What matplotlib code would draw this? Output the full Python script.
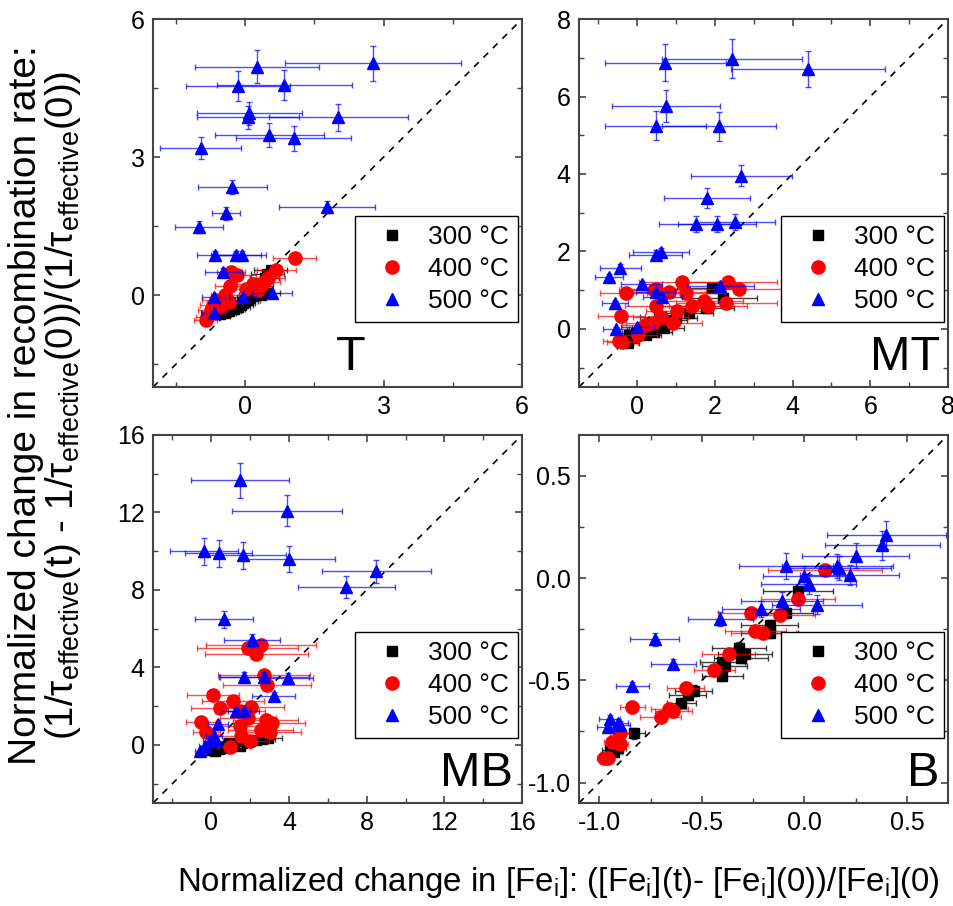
import matplotlib
matplotlib.use('Agg')
import matplotlib.pyplot as plt
from matplotlib.lines import Line2D
from matplotlib.ticker import MultipleLocator, FormatStrFormatter

plt.rcParams['font.family'] = ['Liberation Sans', 'DejaVu Sans']
plt.rcParams['mathtext.fontset'] = 'custom'
plt.rcParams['mathtext.rm'] = 'Liberation Sans'
plt.rcParams['mathtext.it'] = 'Liberation Sans:italic'
plt.rcParams['axes.unicode_minus'] = False

temps = ['300 °C', '400 °C', '500 °C']

# ---- panel T ----
T_300_x = [0.55, 0.48, 0.42, 0.3, 0.25, 0.2, 0.15, 0.1, 0.05, 0.0, -0.05, -0.1, -0.15, -0.25, -0.35, -0.45, -0.55, -0.75, 0.35, 0.45]
T_300_y = [0.55, 0.45, 0.38, 0.2, 0.1, 0.05, 0.0, -0.05, -0.1, -0.12, -0.18, -0.22, -0.25, -0.3, -0.35, -0.4, -0.42, -0.38, 0.0, 0.05]
T_300_xe = [0.35, 0.35, 0.32, 0.3, 0.3, 0.3, 0.28, 0.28, 0.28, 0.27, 0.27, 0.26, 0.26, 0.25, 0.25, 0.24, 0.24, 0.22, 0.3, 0.3]
T_300_ye = [0.04] * 20
T_400_x = [1.07, 0.67, -0.31, -0.17, 0.49, -0.33, 0.16, 0.01, 0.27, 0.41, -0.44, -0.64, -0.71, -0.53, -0.82, -0.86, -0.75, -0.35]
T_400_y = [0.8, 0.54, 0.51, 0.43, 0.36, 0.2, 0.25, 0.14, 0.12, 0.29, 0.0, -0.11, -0.22, -0.25, -0.47, -0.54, -0.33, -0.15]
T_400_xe = [0.47, 0.42, 0.3, 0.4, 0.38, 0.32, 0.35, 0.35, 0.3, 0.35, 0.3, 0.3, 0.28, 0.3, 0.25, 0.25, 0.28, 0.3]
T_400_ye = [0.05] * 18
T_500_x = [0.25, 2.77, -0.15, 0.85, 0.09, 0.06, 2.02, 0.52, 1.05, -0.97, -0.28, 1.77, -0.42, -1.0, -0.66, -0.2, -0.08, -0.48, 0.58, -0.68, -0.68, -0.06]
T_500_y = [4.96, 5.04, 4.54, 4.57, 3.95, 3.86, 3.86, 3.48, 3.41, 3.19, 2.35, 1.92, 1.78, 1.48, 0.87, 0.87, 0.87, 0.51, 0.05, -0.05, -0.4, -0.04]
T_500_xe = [1.35, 1.9, 1.13, 1.46, 1.13, 1.1, 1.5, 1.18, 1.25, 0.88, 0.75, 1.04, 0.31, 0.52, 0.39, 0.55, 0.54, 0.4, 0.44, 0.25, 0.25, 0.3]
T_500_ye = [0.36, 0.38, 0.33, 0.32, 0.25, 0.25, 0.3, 0.27, 0.27, 0.24, 0.16, 0.13, 0.14, 0.14, 0.08, 0.08, 0.08, 0.08, 0.05, 0.05, 0.05, 0.05]

# ---- panel MT ----
MT_300_x = [1.92, 2.22, 1.78, 1.34, 1.0, 0.57, 0.74, 0.52, 0.31, 0.14, -0.03, -0.21, -0.25, 0.7, 0.44, 0.22, -0.12]
MT_300_y = [1.05, 0.81, 0.53, 0.4, 0.29, 0.32, 0.23, 0.1, 0.02, -0.03, -0.11, -0.16, -0.37, 0.02, -0.07, -0.16, -0.2]
MT_300_xe = [0.78, 0.87, 0.7, 0.6, 0.55, 0.5, 0.55, 0.5, 0.45, 0.4, 0.35, 0.3, 0.3, 0.5, 0.45, 0.4, 0.3]
MT_300_ye = [0.06] * 17
MT_400_x = [2.33, 2.62, 1.15, -0.28, 0.47, 0.83, 1.26, 0.48, 1.73, 1.82, 2.29, 1.03, -0.41, 0.4, 0.91, 0.01, -0.48, -0.38, 0.44, 0.2, 0.6, 1.4]
MT_400_y = [1.22, 1.03, 1.2, 0.94, 1.03, 0.96, 0.92, 0.59, 0.72, 0.59, 0.66, 0.47, 0.34, 0.16, 0.15, -0.16, -0.3, -0.33, 1.0, 0.1, 0.3, 0.6]
MT_400_xe = [1.26, 1.3, 1.1, 0.67, 0.9, 0.95, 1.0, 0.8, 1.0, 1.0, 1.3, 0.8, 0.6, 0.7, 0.75, 0.5, 0.4, 0.4, 0.9, 0.6, 0.7, 0.9]
MT_400_ye = [0.08] * 22
MT_500_x = [0.72, 2.44, 4.39, 0.74, 0.47, 2.1, 2.68, 1.8, 1.52, 2.05, 2.51, 0.47, 0.61, -0.44, -0.72, 0.11, 2.14, 0.47, 0.65, -0.58, -0.55, 0.0]
MT_500_y = [6.87, 6.98, 6.71, 5.76, 5.25, 5.23, 3.95, 3.39, 2.71, 2.71, 2.76, 1.91, 1.98, 1.58, 1.33, 1.15, 1.12, 0.96, 0.83, 0.66, -0.01, 0.06]
MT_500_xe = [1.56, 1.8, 1.98, 1.4, 1.3, 1.46, 1.3, 1.1, 0.95, 1.0, 1.03, 0.68, 0.71, 0.53, 0.36, 0.52, 0.86, 0.5, 0.5, 0.34, 0.34, 0.43]
MT_500_ye = [0.48, 0.5, 0.46, 0.41, 0.38, 0.37, 0.27, 0.26, 0.2, 0.2, 0.2, 0.12, 0.12, 0.1, 0.1, 0.08, 0.08, 0.07, 0.07, 0.06, 0.05, 0.05]

# ---- panel MB ----
MB_300_x = [0.0, 0.2, 0.4, 0.6, 0.8, 1.0, 1.2, 1.4, 1.6, 1.8, 2.0, 2.3, 2.6, 0.3, 0.9, 1.5, 2.9]
MB_300_y = [-0.25, -0.3, -0.2, -0.15, -0.1, -0.05, 0.0, 0.05, 0.1, 0.15, 0.2, 0.25, 0.3, -0.1, 0.1, -0.05, 0.35]
MB_300_xe = [0.4, 0.4, 0.45, 0.45, 0.5, 0.5, 0.55, 0.55, 0.6, 0.6, 0.65, 0.7, 0.7, 0.45, 0.5, 0.55, 0.75]
MB_300_ye = [0.1] * 17
MB_400_x = [2.58, 1.89, 2.32, 2.71, 2.87, 0.08, 1.11, 0.43, 2.03, -0.55, 1.89, 2.8, 3.14, 1.49, -0.26, 2.54, 3.0, 1.55, 1.97, 0.94, 1.47]
MB_400_y = [5.17, 4.98, 4.7, 3.63, 3.1, 2.55, 2.24, 1.91, 1.98, 1.2, 1.38, 1.29, 1.14, 0.95, 0.65, 0.77, 0.65, 0.48, 0.22, -0.12, 1.77]
MB_400_xe = [2.83, 2.6, 2.66, 2.38, 2.28, 1.35, 1.59, 1.46, 1.72, 0.77, 1.46, 1.69, 1.7, 1.3, 0.69, 1.68, 1.6, 1.2, 1.0, 0.6, 1.3]
MB_400_ye = [0.3, 0.28, 0.27, 0.25, 0.2, 0.15, 0.15, 0.12, 0.12, 0.1, 0.1, 0.1, 0.1, 0.08, 0.08, 0.08, 0.08, 0.06, 0.06, 0.05, 0.12]
MB_500_x = [1.46, 3.9, -0.38, 0.39, 1.63, 4.0, 8.5, 6.96, 0.65, 2.09, 1.66, 2.71, 3.95, 3.21, 1.25, 1.68, 0.34, 0.14, -0.09, -0.34, -0.6, 0.25]
MB_500_y = [13.66, 12.1, 10.0, 9.9, 9.78, 9.6, 8.97, 8.15, 6.48, 5.39, 3.5, 3.53, 3.46, 2.51, 1.74, 1.74, 1.08, 0.48, 0.22, -0.04, -0.3, 0.2]
MB_500_xe = [2.52, 2.84, 1.74, 1.72, 2.2, 2.35, 2.8, 2.49, 1.49, 1.44, 1.2, 2.3, 1.3, 1.1, 0.73, 0.8, 0.5, 0.4, 0.35, 0.3, 0.25, 0.35]
MB_500_ye = [0.9, 0.82, 0.69, 0.7, 0.7, 0.65, 0.6, 0.56, 0.45, 0.35, 0.25, 0.25, 0.25, 0.2, 0.15, 0.15, 0.1, 0.08, 0.06, 0.05, 0.05, 0.05]

# ---- panel B ----
B_300_x = [-0.03, -0.09, -0.17, -0.17, -0.32, -0.29, -0.31, -0.39, -0.4, -0.4, -0.54, -0.57, -0.6, -0.83, -0.91, -0.95, -0.93]
B_300_y = [-0.065, -0.17, -0.23, -0.27, -0.34, -0.37, -0.39, -0.43, -0.41, -0.48, -0.55, -0.57, -0.61, -0.76, -0.83, -0.84, -0.85]
B_300_xe = [0.17, 0.13, 0.14, 0.14, 0.13, 0.13, 0.13, 0.11, 0.11, 0.1, 0.09, 0.09, 0.07, 0.05, 0.04, 0.04, 0.04]
B_300_ye = [0.025] * 17
B_400_x = [-0.03, -0.26, -0.12, -0.24, -0.2, -0.37, -0.44, -0.58, -0.66, -0.64, -0.7, -0.84, -0.9, -0.94, -0.9, -0.98, -0.96, 0.1]
B_400_y = [-0.1, -0.17, -0.18, -0.26, -0.27, -0.37, -0.45, -0.54, -0.64, -0.65, -0.68, -0.63, -0.76, -0.8, -0.81, -0.88, -0.88, 0.04]
B_400_xe = [0.18, 0.16, 0.17, 0.15, 0.16, 0.13, 0.1, 0.09, 0.09, 0.09, 0.1, 0.06, 0.05, 0.04, 0.04, 0.03, 0.03, 0.28]
B_400_ye = [0.03] * 18
B_500_x = [0.4, 0.38, 0.25, -0.09, 0.16, 0.17, 0.22, 0.0, 0.02, 0.06, -0.11, -0.21, -0.41, -0.73, -0.64, -0.84, -0.95, -0.91, -0.96, -0.9]
B_500_y = [0.21, 0.16, 0.11, 0.06, 0.06, 0.05, 0.016, 0.01, -0.03, -0.13, -0.11, -0.15, -0.2, -0.3, -0.42, -0.53, -0.69, -0.71, -0.73, -0.72]
B_500_xe = [0.29, 0.28, 0.26, 0.23, 0.27, 0.25, 0.24, 0.2, 0.23, 0.22, 0.2, 0.19, 0.16, 0.12, 0.11, 0.08, 0.05, 0.05, 0.05, 0.05]
B_500_ye = [0.07, 0.07, 0.06, 0.065, 0.06, 0.06, 0.05, 0.05, 0.05, 0.045, 0.04, 0.04, 0.035, 0.03, 0.025, 0.02, 0.02, 0.02, 0.02, 0.02]

panels = [
    ('T', (-2, 6), 3, 1.5, '%d', [
        (T_300_x, T_300_y, T_300_xe, T_300_ye),
        (T_400_x, T_400_y, T_400_xe, T_400_ye),
        (T_500_x, T_500_y, T_500_xe, T_500_ye)], 0.537, 'center'),
    ('MT', (-1.5, 8), 2, 1, '%d', [
        (MT_300_x, MT_300_y, MT_300_xe, MT_300_ye),
        (MT_400_x, MT_400_y, MT_400_xe, MT_400_ye),
        (MT_500_x, MT_500_y, MT_500_xe, MT_500_ye)], 0.978, 'right'),
    ('MB', (-3, 16), 4, 2, '%d', [
        (MB_300_x, MB_300_y, MB_300_xe, MB_300_ye),
        (MB_400_x, MB_400_y, MB_400_xe, MB_400_ye),
        (MB_500_x, MB_500_y, MB_500_xe, MB_500_ye)], 0.976, 'right'),
    ('B', (-1.1, 0.7), 0.5, 0.25, '%.1f', [
        (B_300_x, B_300_y, B_300_xe, B_300_ye),
        (B_400_x, B_400_y, B_400_xe, B_400_ye),
        (B_500_x, B_500_y, B_500_xe, B_500_ye)], 0.978, 'right'),
]

styles = [('s', 'black', (0, 0, 0, 0.75), 7),
          ('o', 'red', (1, 0, 0, 0.7), 9.5),
          ('^', 'blue', (0, 0, 1, 0.7), 8.5)]
draw_order = [1, 0, 2]

positions = [(0.1604, 0.5728), (0.6069, 0.5728), (0.1604, 0.1137), (0.6069, 0.1137)]
w, h = 0.3868, 0.4062

fig = plt.figure(figsize=(9.54, 9.06), dpi=100)

for (name, lim, major, minor, fmt, series, lx, lha), (px, py) in zip(panels, positions):
    ax = fig.add_axes([px, py, w, h])
    ax.plot(lim, lim, color='black', lw=1.2, ls=(0, (4, 4)), zorder=1)
    for i in draw_order:
        xs, ys, xe, ye = series[i]
        m, c, ec, ms = styles[i]
        ax.errorbar(xs, ys, xerr=xe, yerr=ye, fmt=m, color=c, ecolor=ec,
                    ms=ms, mec=c, elinewidth=1.0, capsize=2.5, capthick=1.0,
                    zorder=2 + i)
    ax.set_xlim(lim)
    ax.set_ylim(lim)
    for axis in (ax.xaxis, ax.yaxis):
        axis.set_major_locator(MultipleLocator(major))
        axis.set_minor_locator(MultipleLocator(minor))
        axis.set_major_formatter(FormatStrFormatter(fmt))
    ax.tick_params(which='both', direction='in', top=True, right=True,
                   labelsize=18, color='#444444', pad=6)
    ax.tick_params(which='major', length=5, width=1.2)
    ax.tick_params(which='minor', length=3.5, width=1.0)
    for s in ax.spines.values():
        s.set_color('#444444')
        s.set_linewidth(1.5)
    handles = [Line2D([], [], ls='none', marker=styles[i][0], color=styles[i][1],
                      ms=styles[i][3]) for i in range(3)]
    ax.legend(handles, temps, loc='upper right', bbox_to_anchor=(0.99, 0.465),
              borderaxespad=0, fontsize=19, frameon=True, fancybox=False,
              edgecolor='black', framealpha=1, handletextpad=0.34,
              labelspacing=0.3, borderpad=0.35, handlelength=2.1)
    ax.text(lx, 0.045, name, transform=ax.transAxes, ha=lha, va='baseline',
            fontsize=35, zorder=10)

fig.text(0.027, 0.553, 'Normalized change in recombination rate:',
         rotation=90, ha='center', va='center', fontsize=28)
fig.text(0.066, 0.553,
         r'(1/τ$_{\mathrm{effective}}$(t) - 1/τ$_{\mathrm{effective}}$(0))/(1/τ$_{\mathrm{effective}}$(0))',
         rotation=90, ha='center', va='center', fontsize=27.5)
fig.text(0.186, 0.026,
         r'Normalized change in [Fe$_{\mathrm{i}}$]: ([Fe$_{\mathrm{i}}$](t)- [Fe$_{\mathrm{i}}$](0))/[Fe$_{\mathrm{i}}$](0)',
         ha='left', va='center', fontsize=23.8)

fig.savefig('out.png', dpi=100)
